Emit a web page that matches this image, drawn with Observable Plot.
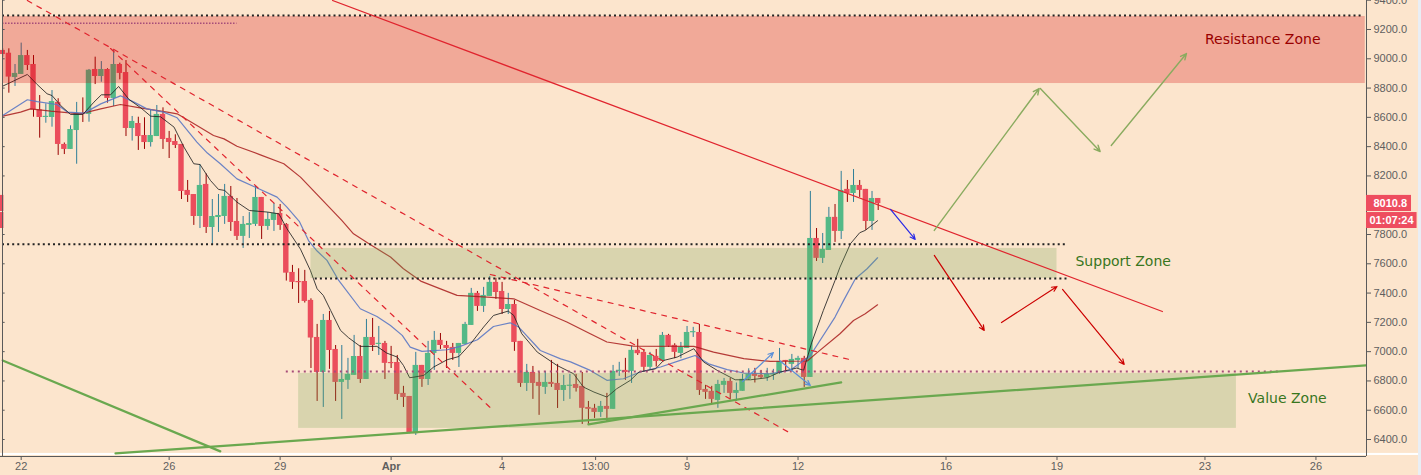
<!DOCTYPE html>
<html><head><meta charset="utf-8">
<script src="https://cdn.jsdelivr.net/npm/d3@7"></script>
<script src="https://cdn.jsdelivr.net/npm/@observablehq/plot@0.6"></script>
<style>html,body{margin:0;padding:0;background:#e9eef4;overflow:hidden}</style>
</head><body><div id="chart"></div>
<script>
const opens=[9057,9038,8872,8893,9022,8961,8651,8599,8599,8702,8415,8381,8510,8627,8620,8927,8879,8927,8729,8961,8906,8524,8558,8476,8428,8469,8620,8456,8435,8415,8101,8073,7923,8142,7848,7916,7923,8060,7889,7787,7862,7869,8053,7855,7896,7944,7869,7541,7479,7479,7350,7097,6858,7213,7015,6790,6804,6838,6967,6810,7097,7049,7056,6926,6926,6715,6694,6440,6906,6810,6988,7077,7042,7029,6988,7049,7179,7398,7309,7377,7473,7411,7288,7322,7070,6783,6858,6790,6756,6790,6783,6735,6763,6776,6763,6619,6613,6585,6626,6606,6865,6872,6865,7009,6995,6893,6968,6933,7111,7043,6988,7022,7129,7131,6742,6729,6667,6770,6797,6715,6729,6811,6845,6838,6822,6840,6852,6940,6913,6940,6954,6824,7773,7637,7691,7917,7821,8108,8080,8135,8108,7889,8046];
const highs=[9068,9068,8961,9107,9057,9022,8749,8692,8783,8727,8425,8542,8702,8733,8927,9011,8981,8932,9057,8970,8988,8606,8601,8597,8647,8681,8665,8504,8481,8415,8169,8073,8278,8214,8039,8073,8142,8128,8046,7923,7950,8128,8053,7950,8012,8005,7875,7589,7566,7555,7361,7186,7254,7275,7042,7042,6954,7111,7042,7220,7227,7172,7070,7036,6974,6763,6694,6995,6906,7070,7138,7124,7070,7056,7056,7200,7432,7411,7439,7514,7500,7473,7398,7350,7070,6913,6899,6858,6865,6940,6913,6838,6845,6845,6858,6660,6640,6660,6715,6906,6927,6954,7036,7084,7015,6995,7015,7131,7118,7054,7063,7172,7166,7186,6770,6763,6804,6817,6817,6786,6845,6883,6886,6872,6886,6879,7022,6940,6981,6968,6968,8094,7841,7807,7985,8005,8231,8169,8244,8169,8108,8094,8046];
const lows=[9011,8765,8811,8893,8920,8601,8458,8560,8533,8340,8346,8381,8280,8565,8567,8824,8840,8697,8674,8856,8469,8438,8374,8381,8397,8469,8381,8319,8387,8039,8019,7862,7841,7807,7725,7814,7869,7821,7759,7705,7773,7855,7766,7828,7821,7828,7482,7425,7329,7332,6885,6660,6619,6879,6660,6537,6742,6838,6783,6810,7001,6974,6810,6885,6667,6619,6440,6428,6756,6769,6872,7015,6885,6940,6892,7049,7179,7275,7268,7377,7357,7254,7254,7002,6756,6728,6674,6565,6708,6756,6612,6660,6674,6724,6503,6503,6544,6551,6524,6606,6831,6804,6783,6974,6858,6872,6895,6933,7029,6952,6952,7022,7097,6701,6674,6640,6613,6715,6674,6660,6729,6804,6786,6815,6797,6804,6845,6861,6865,6883,6756,6824,7616,7602,7691,7746,7766,8019,8019,8053,7828,7828,7964];
const closes=[9029,8875,8900,9022,8954,8651,8599,8606,8708,8415,8381,8517,8626,8620,8922,8879,8927,8729,8961,8900,8524,8572,8469,8428,8476,8620,8449,8428,8408,8094,8067,7923,8135,7848,7923,7930,8060,7882,7787,7869,7875,8053,7855,7903,7944,7862,7536,7473,7473,7343,7093,6858,7213,7008,6790,6810,6845,6967,6810,7097,7042,7056,6920,6920,6708,6687,6448,6906,6810,6988,7077,7042,7022,6988,7056,7186,7398,7309,7384,7473,7404,7288,7322,7063,6783,6858,6783,6763,6790,6776,6735,6769,6769,6749,6613,6606,6585,6626,6606,6865,6872,6858,7009,6986,6893,6974,6933,7111,7036,6995,7029,7131,7134,6735,6722,6674,6776,6797,6715,6735,6811,6845,6831,6822,6845,6852,6933,6933,6947,6954,6824,7773,7637,7698,7917,7821,8101,8080,8135,8101,7889,8046,8011];

const maFast=[[0,8813],[4,8893],[5.6,8824],[7.2,8761],[8,8749],[9.4,8681],[11,8620],[13,8620],[14.8,8704],[16,8754],[17.5,8754],[18.8,8811],[20.5,8722],[22.4,8665],[24,8608],[25.6,8604],[27.8,8533],[29.4,8397],[31,8283],[32,8278],[33.7,8169],[35,8108],[36,8101],[38,8021],[40,7964],[43,7953],[44.8,7941],[46.1,7840],[48.3,7700],[49.9,7555],[51,7429],[52,7384],[53.2,7281],[54.8,7145],[56.1,7095],[58,7036],[60.7,7036],[62.3,6990],[64,6963],[65,6906],[66,6822],[66.7,6826],[68.3,6838],[69.9,6895],[72.1,6945],[74,6967],[75.9,7054],[78,7168],[79.6,7247],[82,7277],[82.9,7247],[84.2,7122],[86.7,6997],[89.9,6906],[92.6,6849],[94.2,6758],[95.9,6724],[98,6690],[99.6,6747],[101.8,6804],[103.2,6861],[105.9,6883],[107.2,6940],[109.4,6963],[112.1,7020],[113.7,6929],[115.9,6872],[118.8,6808],[121.3,6808],[124,6822],[126.1,6861],[128.8,6888],[129.9,6872],[131.2,7060],[133.1,7281],[135,7486],[135.8,7577],[137.5,7737],[139,7812],[139.9,7828],[141.9,7894]];
const maMid=[[0,8613],[4,8720],[5.6,8708],[8.8,8688],[10.5,8636],[13.2,8629],[15.9,8692],[19.1,8747],[21.3,8704],[23.4,8658],[26.1,8636],[28.3,8597],[31.5,8431],[33.2,8356],[35.3,8283],[38,8180],[41,8123],[44.5,8055],[46.1,7987],[48.1,7890],[49.6,7759],[51,7687],[52.6,7623],[54.5,7486],[58,7293],[60.7,7240],[62.9,7179],[64.8,7111],[66.1,7031],[68,7002],[72.1,7013],[74.2,7036],[77,7081],[79.6,7172],[82.3,7197],[83.7,7168],[87.2,7008],[90.5,6951],[92.1,6930],[95.3,6872],[98,6804],[100.7,6815],[103.4,6861],[106.7,6895],[109.9,6940],[112.3,6974],[114.5,6917],[117.5,6877],[120.2,6854],[124.5,6849],[127.7,6872],[131,6974],[135,7236],[136.4,7350],[138.3,7498],[140.2,7566],[141.9,7641]];
const maSlow=[[0,8608],[2.9,8636],[4.5,8658],[7.8,8642],[12.6,8624],[15.9,8658],[19.1,8688],[22.3,8665],[26.7,8636],[28.3,8624],[31.5,8544],[34.2,8476],[35.9,8453],[38,8403],[41.8,8344],[45.6,8283],[48.3,8192],[55,7896],[56.9,7805],[59.6,7732],[62.9,7646],[65,7566],[67.8,7482],[71,7429],[73.7,7384],[78.6,7373],[82.9,7361],[87.2,7281],[91.5,7202],[95.3,7122],[98,7066],[102.3,7038],[112.1,7036],[115.3,6997],[120.2,6952],[124.5,6933],[130.5,6936],[132,6990],[135.8,7122],[138,7213],[139.9,7259],[141.9,7320]];

const zones=[
 {x1:-0.03,x2:221,y1:8831,y2:9289,fill:"#d00000"},
 {x1:50,x2:171,y1:7500,y2:7705,fill:"#73a555"},
 {x1:48,x2:200.1,y1:6476,y2:6851,fill:"#73a555"}
];
const blackDots=[[-0.03,220.7,9296],[-0.03,172.7,7734],[50.7,172.7,7500]];
const pinkDots=[[46,207,6865],[-0.03,38,9243]];
const redSolid=[[53.5,9398],[188.1,7274]];
const redDashed=[[[4,9398],[128.1,6435]],[[17.5,9070],[79.4,6605]],[[79.1,7527],[138,6940]]];
const greenLines=[[[18.3,6305],[221.1,6906]],[[0,6940],[35.3,6319]],[[95,6503],[136,6790]]];
const arrowsRed=[[151.1,7657,159.2,7145],[162,7199,171,7445],[171.9,7425,181.9,6913]];
const arrowsGreen=[[151.1,7828,168.1,8797],[168.3,8797,178,8367],[179.8,8408,192,9036]];
const arrowsBlue=[[144,7971,148,7766]];
const arrowsSky=[[120,6796,125,6994],[126,6940,131,6769]];
const yTicks=[6400,6600,6800,7000,7200,7400,7600,7800,8200,8400,8600,8800,9000,9200,9400];
const xTickIdx=[3,27,45,81,96.17,111,129,153,171,195,213];
const xTickLabels=["22","26","29","4","13:00","9","12","16","19","23","26"];
const zoneLabels=[{t:"Resistance Zone",x:195,y:9131,c:"#990000"},{t:"Support Zone",x:174,y:7616,c:"#38761d"},{t:"Value Zone",x:202,y:6680,c:"#38761d"}];

const candles=opens.map((o,i)=>({i,o,h:highs[i],l:lows[i],c:closes[i],up:closes[i]>=o}));
const segs=(a)=>a.map(([x1,y1,x2,y2])=>({x1,y1,x2,y2}));
const lineData=(pts)=>pts.map((p,id)=>({x:p[0],y:p[1]}));
const AXIS="#5a5a5a";
const arrowOpts=(stroke,w=1)=>({x1:"x1",y1:"y1",x2:"x2",y2:"y2",stroke,strokeWidth:w,bend:0,headLength:7,headAngle:50,insetStart:0,insetEnd:0});
const labelFmt=new Map(xTickIdx.map((v,k)=>[v,xTickLabels[k]]));

const marks=[
 Plot.rect([0],{x1:-0.4,x2:230,y1:6291,y2:6305,fill:"#fff"}),
 Plot.rect([0],{x1:-0.4,x2:0.2,y1:7957,y2:8067,fill:"#ee4d5f"}),
 Plot.rect([0],{x1:-0.4,x2:0.2,y1:7841,y2:7950,fill:"#ee4d5f"}),
 Plot.ruleX(candles,{x:"i",y1:"l",y2:"h",stroke:d=>d.up?"#2f7e98":"#990000",strokeWidth:1}),
 Plot.rect(candles,{x1:d=>d.i-0.44,x2:d=>d.i+0.44,y1:"o",y2:d=>Math.abs(d.c-d.o)<8?d.o+(d.up?8:-8):d.c,fill:d=>d.up?"#53b987":"#eb4d5c"}),
 Plot.line(lineData(maSlow),{x:"x",y:"y",stroke:"#a81c1c",strokeWidth:1.2,strokeOpacity:0.85}),
 Plot.line(lineData(maMid),{x:"x",y:"y",stroke:"#5b78c4",strokeWidth:1.2,strokeOpacity:0.9}),
 Plot.line(lineData(maFast),{x:"x",y:"y",stroke:"#222",strokeWidth:1,strokeOpacity:0.85}),
 Plot.rect(zones,{x1:"x1",x2:"x2",y1:"y1",y2:"y2",fill:"fill",fillOpacity:0.26}),
 ...blackDots.map(([a,b,y])=>Plot.ruleY([y],{x1:a,x2:b,stroke:"#222",strokeWidth:2,strokeDasharray:"2 3.1"})),
 ...pinkDots.map(([a,b,y],k)=>Plot.ruleY([y],{x1:a,x2:b,stroke:"#a64d79",strokeWidth:k?1.5:2,strokeDasharray:k?"1.5 1.5":"2 4"})),
 Plot.line(lineData(redSolid),{x:"x",y:"y",stroke:"#e0242e",strokeWidth:1.2}),
 ...redDashed.map(p=>Plot.line(lineData(p),{x:"x",y:"y",stroke:"#e0242e",strokeWidth:1.2,strokeDasharray:"5 6"})),
 ...greenLines.map(p=>Plot.line(lineData(p),{x:"x",y:"y",stroke:"#6aa84f",strokeWidth:2.2})),
 Plot.arrow(segs(arrowsRed),arrowOpts("#cc0000",1.2)),
 Plot.arrow(segs(arrowsGreen),arrowOpts("#8aab5f",1.4)),
 Plot.arrow(segs(arrowsBlue),arrowOpts("#2a2ae6",1.2)),
 Plot.arrow(segs(arrowsSky),arrowOpts("#5b8fd8",1.2)),
 Plot.text(zoneLabels,{x:"x",y:"y",text:"t",fill:"c",textAnchor:"start",fontFamily:"DejaVu Sans",fontSize:14}),
 Plot.ruleX([-0.03],{stroke:AXIS,strokeWidth:1}),
 Plot.ruleY(yTicks,{x1:-0.03,x2:0.4,stroke:AXIS}),
 Plot.ruleX([221.2],{stroke:AXIS,strokeWidth:1}),
 Plot.ruleY([6284],{x1:-0.4,x2:221.2,stroke:AXIS,strokeWidth:1}),
 Plot.axisY({anchor:"right",ticks:yTicks,tickFormat:d=>d.toFixed(1),tickSize:4,tickPadding:3,label:null,fill:"#5f5f5f",stroke:AXIS,fontSize:11,fontFamily:"Liberation Sans"}),
 Plot.axisX({anchor:"bottom",ticks:xTickIdx,tickFormat:d=>labelFmt.get(d),tickSize:4,tickPadding:2,label:null,fill:"#5f5f5f",stroke:AXIS,fontSize:11,fontFamily:"Liberation Sans"}),
 Plot.axisX({anchor:"bottom",ticks:[63],tickFormat:()=>"Apr",tickSize:4,tickPadding:2,label:null,fill:"#5f5f5f",stroke:AXIS,fontSize:11,fontWeight:"bold",fontFamily:"Liberation Sans"}),
 Plot.rect([0],{x1:221.2,x2:228.5,y1:7957,y2:8067,fill:"#ee4d5f"}),
 Plot.rect([0],{x1:221.2,x2:229.4,y1:7841,y2:7950,fill:"#ee4d5f"}),
 Plot.text(["8010.8"],{x:221.2,y:8012,dx:7,text:d=>d,fill:"#fff",textAnchor:"start",fontWeight:"bold",fontSize:11,fontFamily:"Liberation Sans"}),
 Plot.text(["01:07:24"],{x:221.2,y:7896,dx:3,text:d=>d,fill:"#fff",textAnchor:"start",fontWeight:"bold",fontSize:11,fontFamily:"Liberation Sans"})
];
const chart=Plot.plot({
 width:1418,height:475,marginLeft:2,marginRight:52,marginTop:0,marginBottom:19,
 style:{background:"#fce5cd",fontFamily:"Liberation Sans",overflow:"hidden"},
 x:{domain:[-0.03,221.2],axis:null},
 y:{domain:[6284,9398],axis:null},
 marks
});
document.getElementById("chart").appendChild(chart);
</script></body></html>
